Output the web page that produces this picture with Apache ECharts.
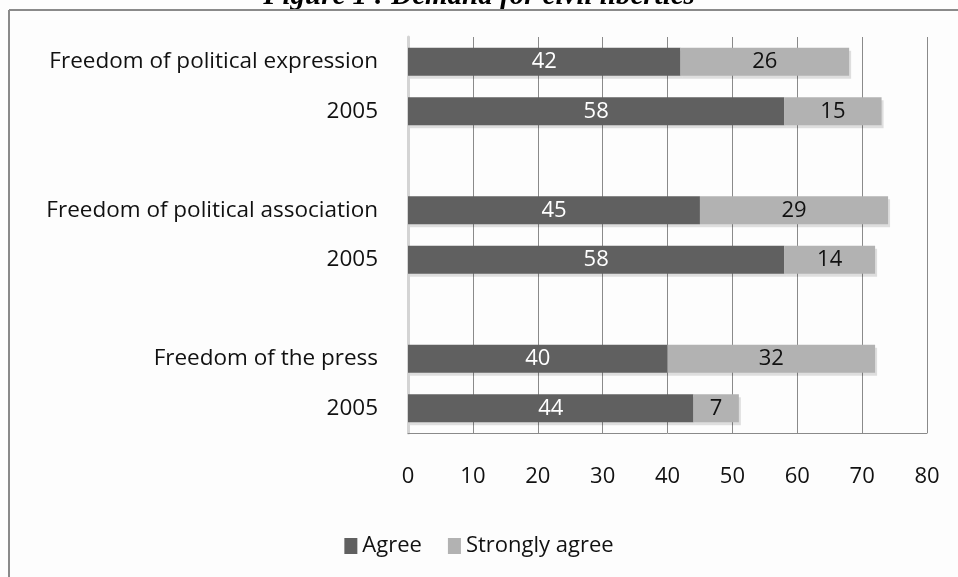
<!DOCTYPE html>
<html>
<head>
<meta charset="utf-8">
<script src="https://cdn.jsdelivr.net/npm/echarts@6/dist/echarts.min.js"></script>
<style>
  html, body { margin: 0; padding: 0; background: #fdfdfd; }
  #chart { width: 958px; height: 577px; }
</style>
</head>
<body>
<div id="chart"></div>
<script>
  // data
  var categories = ['Freedom of political expression', '2005', '',
                    'Freedom of political association', '2005', '',
                    'Freedom of the press', '2005'];
  var agree = [42, 58, null, 45, 58, null, 40, 44];
  var stronglyAgree = [26, 15, null, 29, 14, null, 32, 7];
  var xTicks = [0, 10, 20, 30, 40, 50, 60, 70, 80];

  var font = '"Open Sans", "Noto Sans", sans-serif';

  var chart = echarts.init(document.getElementById('chart'), null, { renderer: 'canvas' });
  chart.setOption({
    backgroundColor: '#fdfdfd',
    animation: false,
    color: ['#606060', '#b2b2b2'],
    graphic: [
      {
        type: 'text', left: 'center', top: -18,
        style: { text: 'Figure 1 : Demand for civil liberties', font: 'italic bold 29px "Liberation Serif", serif', fill: '#000' }
      },
      { type: 'line', shape: { x1: 9, y1: 10, x2: 958, y2: 10 }, style: { stroke: '#8a8a8a', lineWidth: 2 } },
      { type: 'line', shape: { x1: 9, y1: 10, x2: 9, y2: 577 }, style: { stroke: '#8a8a8a', lineWidth: 2 } }
    ],
    legend: {
      bottom: 15,
      left: 'center',
      itemWidth: 13,
      itemHeight: 16,
      itemGap: 26,
      icon: 'rect',
      textStyle: { fontFamily: font, fontSize: 22, color: '#111' },
      data: ['Agree', 'Strongly agree']
    },
    grid: { left: 408, right: 31, top: 37, bottom: 144 },
    xAxis: {
      type: 'value',
      min: 0, max: 80, interval: 10,
      axisLine: { show: true, lineStyle: { color: '#8a8a8a', width: 1 } },
      axisTick: { show: false },
      splitLine: { show: true, lineStyle: { color: '#8a8a8a', width: 1 } },
      axisLabel: {
        margin: 33,
        fontFamily: font, fontSize: 22, color: '#111',
        formatter: function (v) { return xTicks.indexOf(v) >= 0 ? String(v) : ''; }
      }
    },
    yAxis: {
      type: 'category',
      inverse: true,
      data: categories,
      axisLine: { show: true, lineStyle: { color: '#d4d4d4', width: 3 } },
      axisTick: { show: false },
      axisLabel: { margin: 30, fontFamily: font, fontSize: 22.5, color: '#111' }
    },
    series: [
      {
        name: 'Agree',
        type: 'bar',
        stack: 'total',
        barWidth: 28,
        data: agree,
        label: { show: true, position: 'inside', color: '#fff', fontFamily: font, fontSize: 22 },
        itemStyle: { shadowColor: 'rgba(0,0,0,0.12)', shadowOffsetY: 3, shadowOffsetX: 2 }
      },
      {
        name: 'Strongly agree',
        type: 'bar',
        stack: 'total',
        barWidth: 28,
        data: stronglyAgree,
        label: { show: true, position: 'inside', color: '#111', fontFamily: font, fontSize: 22 },
        itemStyle: { shadowColor: 'rgba(0,0,0,0.12)', shadowOffsetY: 3, shadowOffsetX: 2 }
      }
    ]
  });
</script>
</body>
</html>
